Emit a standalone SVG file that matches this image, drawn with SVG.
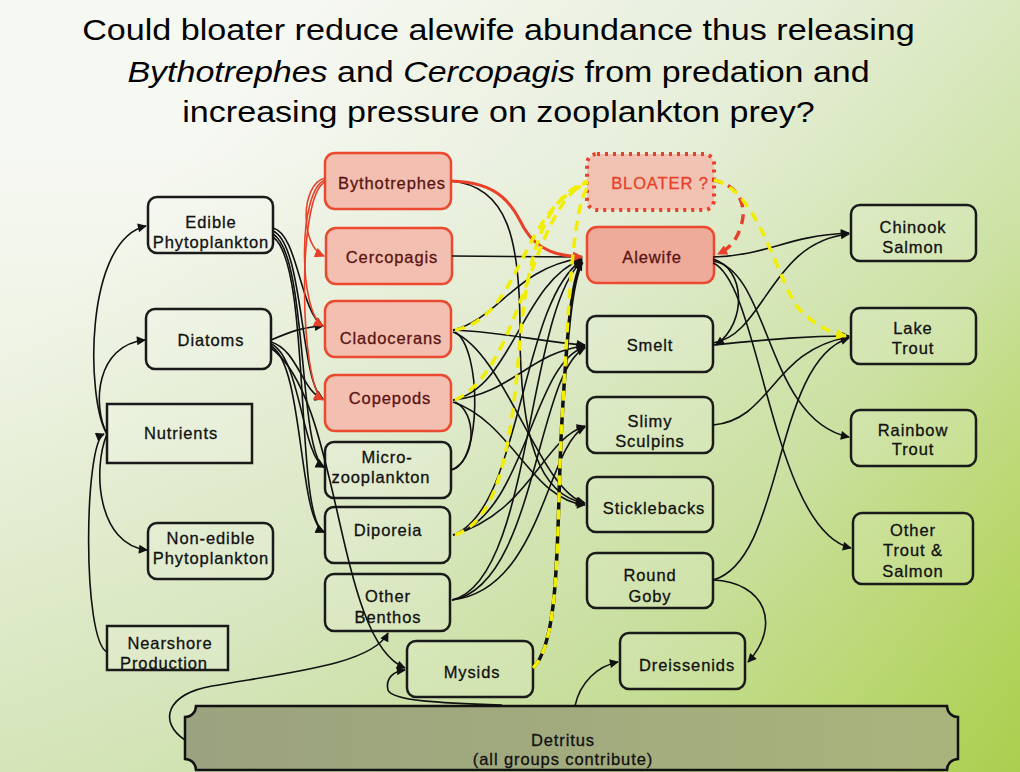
<svg xmlns="http://www.w3.org/2000/svg" width="1020" height="772" viewBox="0 0 1020 772">
<defs>
<linearGradient id="bg" gradientUnits="userSpaceOnUse" x1="250" y1="80" x2="1020" y2="772">
<stop offset="0" stop-color="#f6f8f2"/>
<stop offset="0.35" stop-color="#e6eed9"/>
<stop offset="0.65" stop-color="#cde2a4"/>
<stop offset="0.85" stop-color="#b5d65c"/>
<stop offset="1" stop-color="#9cc91e"/>
</linearGradient>
<linearGradient id="bg2" x1="0" y1="0" x2="0" y2="1">
<stop offset="0.2" stop-color="#c4da98" stop-opacity="0"/>
<stop offset="1" stop-color="#bcd78a" stop-opacity="0.45"/>
</linearGradient>
<linearGradient id="det" x1="0" y1="0" x2="1" y2="0">
<stop offset="0" stop-color="#9ba27f"/>
<stop offset="1" stop-color="#a9b47c"/>
</linearGradient>
<marker id="ab" viewBox="0 0 10 10" refX="9" refY="5" markerWidth="10" markerHeight="9" markerUnits="userSpaceOnUse" orient="auto"><path d="M0,0 L10,5 L0,10 z" fill="#111"/></marker>
<marker id="ar" viewBox="0 0 10 10" refX="9" refY="5" markerWidth="11" markerHeight="10" markerUnits="userSpaceOnUse" orient="auto"><path d="M0,0 L10,5 L0,10 z" fill="#e8402a"/></marker>
<marker id="ay" viewBox="0 0 10 10" refX="9" refY="5" markerWidth="12" markerHeight="11" markerUnits="userSpaceOnUse" orient="auto"><path d="M0,0 L10,5 L0,10 z" fill="#f0ec00"/></marker>
</defs>
<style>
.t{font-family:"Liberation Sans",Arial,sans-serif;font-size:29px;fill:#000}
.l{font-family:"Liberation Sans",Arial,sans-serif;font-size:16.5px;letter-spacing:0.9px;text-anchor:middle;fill:#111;stroke:#111;stroke-width:0.3}
.lr{fill:#5a1414;stroke:#5a1414}
.g{fill:#ffffff;fill-opacity:0.14;stroke:#1a1a1a;stroke-width:2.5}
.r{fill:#f3bfb0;stroke:#ec4a30;stroke-width:2.5}
.k{fill:none;stroke:#111;stroke-width:1.6;marker-end:url(#ab)}
.kn{fill:none;stroke:#111;stroke-width:1.6}
.rd{fill:none;stroke:#e8402a;stroke-width:1.6;marker-end:url(#ar)}
.y{fill:none;stroke:#f2ee00;stroke-width:3.5;stroke-dasharray:10 7}
</style>
<rect width="1020" height="772" fill="url(#bg)"/>
<rect width="1020" height="772" fill="url(#bg2)"/>
<g id="title">
<text class="t" text-anchor="middle" transform="translate(498.5,40) scale(1.177,1)">Could bloater reduce alewife abundance thus releasing</text>
<text class="t" text-anchor="middle" transform="translate(498.5,82) scale(1.172,1)"><tspan font-style="italic">Bythotrephes</tspan> and <tspan font-style="italic">Cercopagis</tspan> from predation and</text>
<text class="t" text-anchor="middle" transform="translate(498.5,122) scale(1.175,1)">increasing pressure on zooplankton prey?</text>
</g>
<g id="detritus">
<path d="M196,706 L947,706 A11,11 0 0 0 958,717 L958,759 A11,11 0 0 0 947,770 L196,770 A11,11 0 0 0 185,759 L185,717 A11,11 0 0 0 196,706 Z" fill="url(#det)" stroke="#111" stroke-width="2.5"/>
<text class="l" x="563" y="746">Detritus</text>
<text class="l" x="563" y="765">(all groups contribute)</text>
</g>
<g id="edible"><rect class="g" x="148" y="197" width="125" height="56" rx="9"/><text class="l" x="211" y="228">Edible</text><text class="l" x="211" y="248">Phytoplankton</text></g>
<g id="diatoms"><rect class="g" x="146" y="309" width="125" height="60" rx="9"/><text class="l" x="211" y="346">Diatoms</text></g>
<g id="nutrients"><rect class="g" x="107" y="404" width="145" height="59"/><text class="l" x="181" y="439">Nutrients</text></g>
<g id="nonedible"><rect class="g" x="148" y="523" width="125" height="56" rx="9"/><text class="l" x="211" y="544">Non-edible</text><text class="l" x="211" y="564">Phytoplankton</text></g>
<g id="nearshore"><rect class="g" x="107" y="626" width="121" height="44"/><text class="l" x="170" y="649">Nearshore</text><text class="l" x="164" y="669">Production</text></g>
<g id="bythotrephes"><rect class="r" x="325" y="153" width="126" height="56" rx="10"/><text class="l lr" x="392" y="189">Bythotrephes</text></g>
<g id="cercopagis"><rect class="r" x="326" y="228" width="126" height="56" rx="10"/><text class="l lr" x="392" y="263">Cercopagis</text></g>
<g id="cladocerans"><rect class="r" x="325" y="301" width="126" height="56" rx="10"/><text class="l lr" x="391" y="344">Cladocerans</text></g>
<g id="copepods"><rect class="r" x="325" y="375" width="126" height="56" rx="10"/><text class="l lr" x="390" y="404">Copepods</text></g>
<g id="microzoo"><rect class="g" x="325" y="442" width="126" height="56" rx="9"/><text class="l" x="387" y="463">Micro-</text><text class="l" x="381" y="483">zooplankton</text></g>
<g id="diporeia"><rect class="g" x="325" y="507" width="125" height="56" rx="9"/><text class="l" x="388" y="536">Diporeia</text></g>
<g id="otherbenthos"><rect class="g" x="325" y="574" width="125" height="57" rx="9"/><text class="l" x="388" y="602">Other</text><text class="l" x="388" y="623">Benthos</text></g>
<g id="mysids"><rect class="g" x="407" y="641" width="126" height="56" rx="9"/><text class="l" x="472" y="678">Mysids</text></g>
<g id="bloater"><rect x="587" y="154" width="127" height="56" rx="10" fill="#f2c2b2" stroke="#e8402a" stroke-width="4" stroke-dasharray="3 5"/><text class="l" x="660" y="189" style="fill:#e8402a;stroke:#e8402a">BLOATER ?</text></g>
<g id="alewife"><rect class="r" x="587" y="227" width="127" height="56" rx="10" style="fill:#eeab9a"/><text class="l lr" x="652" y="263">Alewife</text></g>
<g id="smelt"><rect class="g" x="587" y="316" width="126" height="56" rx="9"/><text class="l" x="650" y="351">Smelt</text></g>
<g id="slimy"><rect class="g" x="587" y="397" width="126" height="56" rx="9"/><text class="l" x="650" y="427">Slimy</text><text class="l" x="650" y="447">Sculpins</text></g>
<g id="sticklebacks"><rect class="g" x="587" y="477" width="126" height="55" rx="9"/><text class="l" x="654" y="514">Sticklebacks</text></g>
<g id="roundgoby"><rect class="g" x="587" y="553" width="126" height="55" rx="9"/><text class="l" x="650" y="581">Round</text><text class="l" x="650" y="602">Goby</text></g>
<g id="dreissenids"><rect class="g" x="620" y="633" width="125" height="56" rx="9"/><text class="l" x="687" y="671">Dreissenids</text></g>
<g id="chinook"><rect class="g" x="851" y="205" width="125" height="56" rx="9"/><text class="l" x="913" y="233">Chinook</text><text class="l" x="913" y="253">Salmon</text></g>
<g id="laketrout"><rect class="g" x="851" y="308" width="125" height="56" rx="9"/><text class="l" x="913" y="334">Lake</text><text class="l" x="913" y="354">Trout</text></g>
<g id="rainbow"><rect class="g" x="851" y="410" width="125" height="56" rx="9"/><text class="l" x="913" y="436">Rainbow</text><text class="l" x="913" y="455">Trout</text></g>
<g id="othertrout"><rect class="g" x="853" y="513" width="120" height="71" rx="9"/><text class="l" x="913" y="536">Other</text><text class="l" x="913" y="556">Trout &amp;</text><text class="l" x="913" y="577">Salmon</text></g>
<g id="connectors">
<path class="k" d="M107,652 C82,640 84,442 104,434"/>
<path class="k" d="M107,434 C86,400 84,240 146,226"/>
<path class="k" d="M107,434 C92,405 96,345 145,340"/>
<path class="k" d="M107,434 C92,470 98,545 147,550"/>
<path class="k" d="M273,228 C298,234 300,312 323,326"/>
<path class="k" d="M273,231 C304,244 300,384 323,399"/>
<path class="k" d="M273,234 C308,254 298,452 324,467"/>
<path class="k" d="M273,237 C312,264 294,518 324,532"/>
<path class="k" d="M271,340 C290,332 302,327 323,326"/>
<path class="k" d="M271,342 C298,350 302,392 323,399"/>
<path class="k" d="M271,344 C300,356 302,456 324,467"/>
<path class="k" d="M271,346 C304,364 298,520 324,532"/>
<path class="k" d="M271,348 C342,400 335,640 405,668"/>
<path class="k" d="M452,256 L582,257"/>
<path class="k" d="M451,181 C508,186 520,240 520,330 C520,440 540,495 584,503"/>
<path class="k" d="M453,330 C500,318 515,268 582,258"/>
<path class="k" d="M453,330 C505,332 540,342 585,345"/>
<path class="k" d="M453,332 C505,352 540,492 585,503"/>
<path class="k" d="M453,400 C512,388 522,282 582,259"/>
<path class="k" d="M453,400 C512,394 530,352 585,346"/>
<path class="k" d="M453,402 C512,422 532,500 585,505"/>
<path class="k" d="M453,535 C522,510 520,302 582,260"/>
<path class="k" d="M453,535 C526,515 532,362 585,347"/>
<path class="k" d="M453,535 C530,512 542,440 585,426"/>
<path class="k" d="M452,600 C532,582 526,312 582,261"/>
<path class="k" d="M452,600 C536,586 536,372 585,348"/>
<path class="k" d="M452,600 C542,590 546,446 585,427"/>
<path class="kn" d="M451,470 C482,465 482,348 455,332"/>
<path class="kn" d="M451,470 C477,460 477,412 455,402"/>
<path class="k" d="M713,257 C770,255 785,236 849,233"/>
<path class="k" d="M713,259 C745,268 748,322 716,345"/>
<path class="k" d="M713,261 C770,270 766,420 849,437"/>
<path class="k" d="M713,263 C760,282 772,530 851,548"/>
<path class="k" d="M713,345 C765,340 800,336 849,336"/>
<path class="k" d="M713,343 C765,335 770,242 849,234"/>
<path class="k" d="M713,425 C772,420 772,350 849,337"/>
<path class="k" d="M713,580 C785,560 772,362 849,338"/>
<path class="k" d="M713,580 C765,582 782,625 748,662"/>
<path class="k" d="M575,706 C580,682 598,666 618,662"/>
<path class="k" d="M185,740 C158,722 166,694 212,686 C292,672 372,664 388,633"/>
<path class="k" d="M502,705 C440,703 392,701 388,690 C385,678 394,671 405,670"/>
<path class="rd" d="M325,178 C300,184 300,246 324,256"/>
<path class="rd" d="M325,180 C298,190 298,312 323,326"/>
<path class="rd" d="M325,182 C296,196 300,386 323,400"/>
<path class="rd" style="stroke-width:3" d="M451,181 C500,182 512,205 524,228 C538,252 560,256 582,257"/>
<path class="rd" style="stroke-width:3.5;stroke-dasharray:10 7" d="M712,180 C738,184 748,205 741,226 C737,240 730,248 718,254"/>
<path class="y" d="M455,330 C522,318 520,208 588,183"/>
<path class="y" d="M455,400 C522,370 532,202 588,182"/>
<path class="y" d="M455,535 C500,520 512,440 520,340 C528,250 546,196 588,181"/>
<path fill="none" stroke="#111" stroke-width="3.5" marker-end="url(#ab)" d="M533,668 C562,640 556,520 562,420 C567,330 572,280 582,262"/>
<path class="y" d="M533,668 C562,640 556,520 562,420 C568,320 572,205 588,187"/>
<path class="y" marker-end="url(#ay)" d="M714,180 C760,190 780,290 800,310 C815,325 830,333 846,336"/>
</g>
</svg>
